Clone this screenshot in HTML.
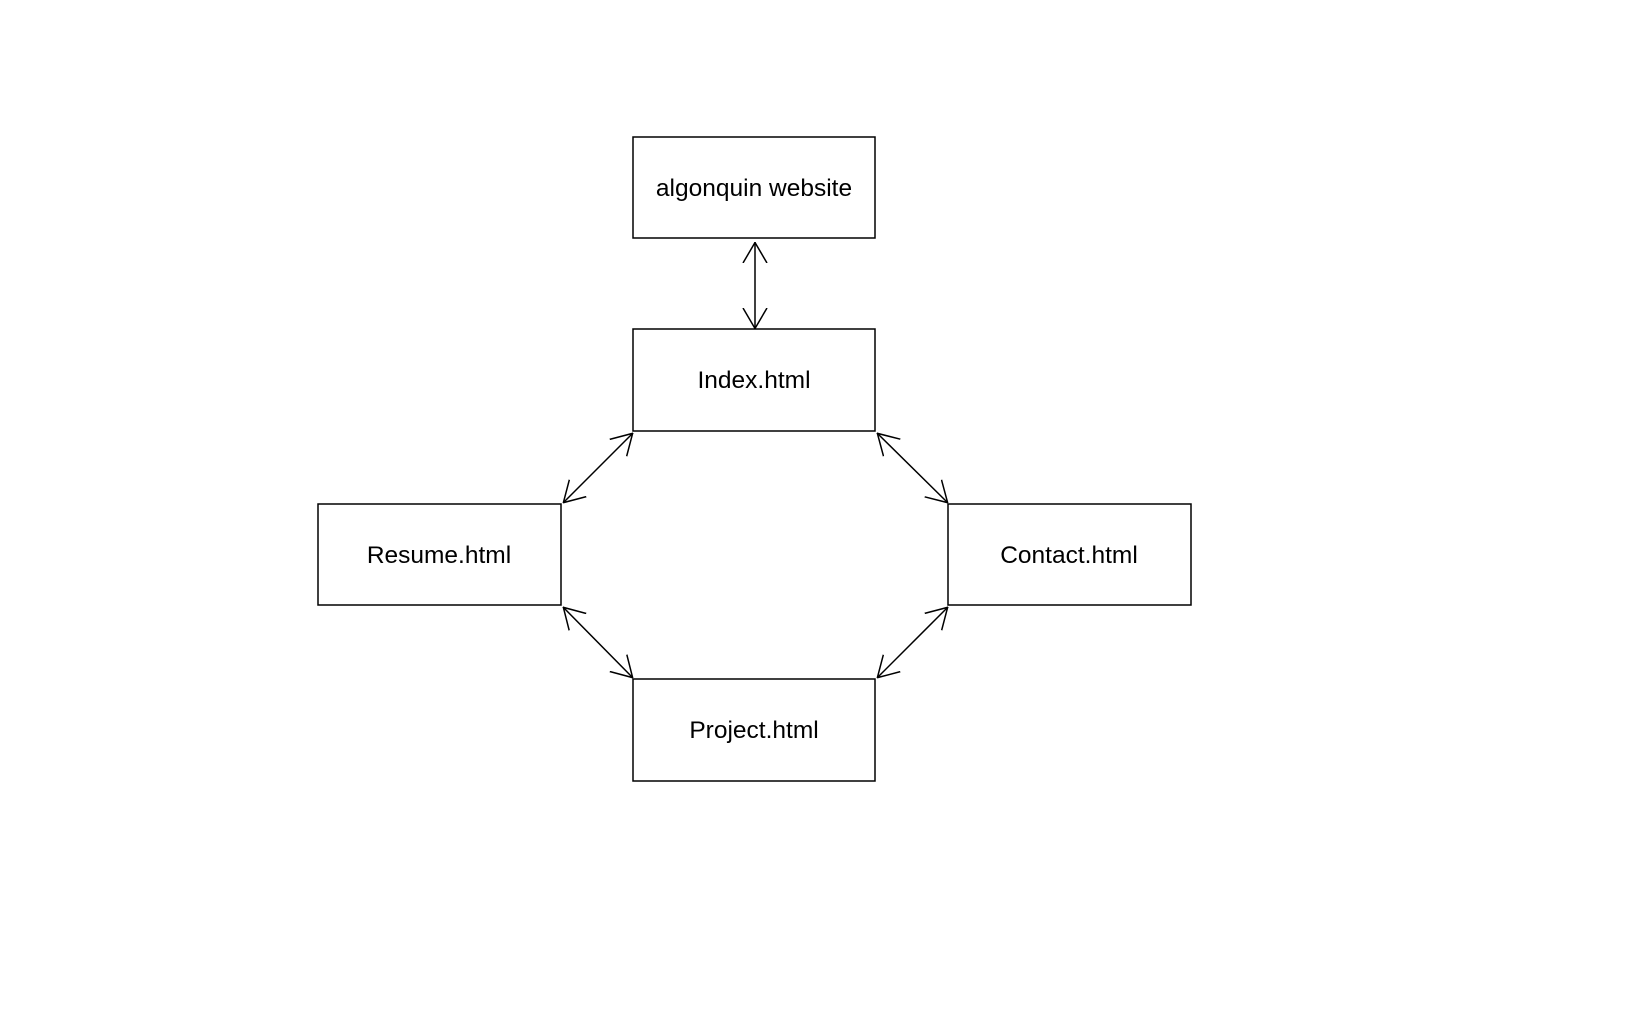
<!DOCTYPE html>
<html><head><style>body{margin:0;background:#fff}</style></head><body>
<svg width="1646" height="1009" xmlns="http://www.w3.org/2000/svg" style="display:block">
<defs><marker id="a" viewBox="0 0 21 26" refX="21" refY="13" markerWidth="21" markerHeight="26" markerUnits="userSpaceOnUse" orient="auto-start-reverse"><path d="M0,1 L20.5,13 L0,25" fill="none" stroke="#000" stroke-width="1.5"/></marker></defs>
<g fill="#fff" stroke="#000" stroke-width="1.5">
<rect x="633" y="137" width="242" height="101"/>
<rect x="633" y="329" width="242" height="102"/>
<rect x="318" y="504" width="243" height="101"/>
<rect x="948" y="504" width="243" height="101"/>
<rect x="633" y="679" width="242" height="102"/>
</g>
<g stroke="#000" stroke-width="1.5" marker-start="url(#a)" marker-end="url(#a)">
<line x1="755" y1="242" x2="755" y2="329"/>
<line x1="633" y1="433" x2="563" y2="503"/>
<line x1="877" y1="433" x2="948" y2="503"/>
<line x1="563" y1="607" x2="633" y2="678"/>
<line x1="948" y1="607" x2="877" y2="678"/>
</g>
<g font-family="Liberation Sans, sans-serif" font-size="24.5" text-anchor="middle" fill="#000">
<text x="754" y="196">algonquin website</text>
<text x="754" y="388">Index.html</text>
<text x="439" y="563">Resume.html</text>
<text x="1069" y="563">Contact.html</text>
<text x="754" y="738">Project.html</text>
</g>
</svg>
</body></html>
